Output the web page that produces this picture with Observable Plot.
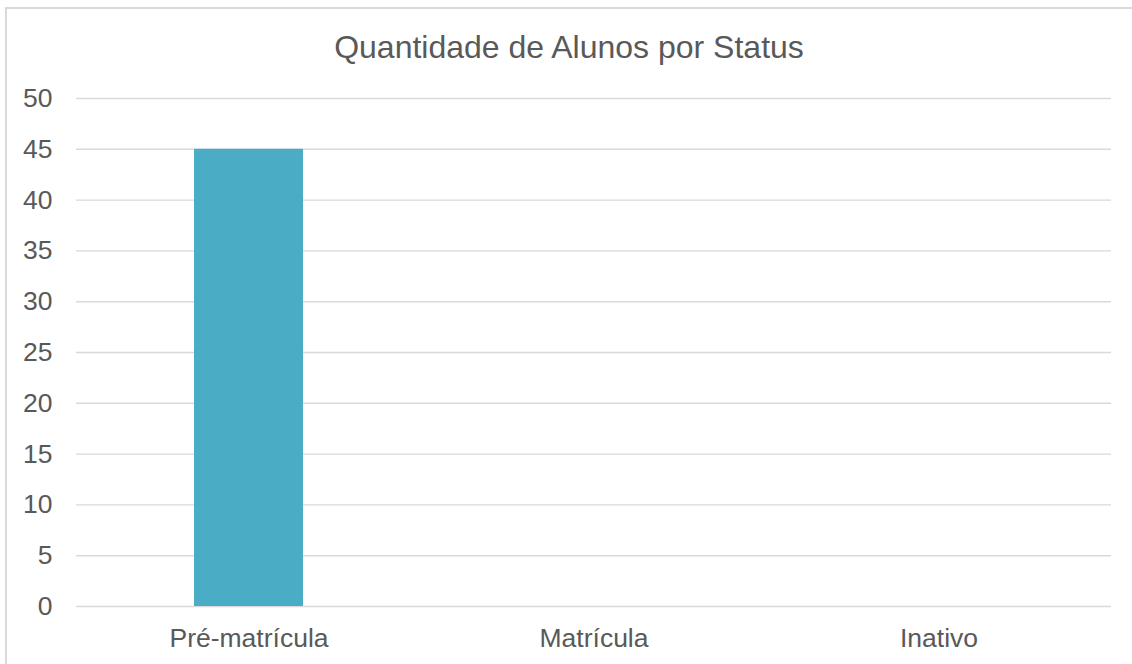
<!DOCTYPE html>
<html>
<head>
<meta charset="utf-8">
<script src="https://cdn.jsdelivr.net/npm/d3@7"></script>
<script src="https://cdn.jsdelivr.net/npm/@observablehq/plot@0.6"></script>
<style>
  html, body { margin: 0; padding: 0; background: #fff; overflow: hidden; }
  body { width: 1132px; height: 664px; position: relative; font-family: "Liberation Sans", Arial, sans-serif; }
  #frame { position: absolute; left: 5px; top: 7px; width: 2000px; height: 2000px;
           border-left: 2px solid #d9d9d9; border-top: 2px solid #d9d9d9; box-sizing: border-box; }
  #title { position: absolute; left: 0; top: 29px; width: 1138px; text-align: center;
           font-size: 32px; color: #595959; line-height: normal; white-space: nowrap; }
  #chart { position: absolute; left: 0; top: 70px; }
</style>
</head>
<body>
<div id="frame"></div>
<div id="title">Quantidade de Alunos por Status</div>
<div id="chart"></div>
<script>
const categories = ["Pré-matrícula", "Matrícula", "Inativo"];
const values = [45, 0, 0];
const yTicks = [0, 5, 10, 15, 20, 25, 30, 35, 40, 45, 50];

const data = categories.map((c, i) => ({category: c, value: values[i]}));

const plot = Plot.plot({
  width: 1132,
  height: 594,
  marginLeft: 76,
  marginRight: 21,
  marginTop: 28,
  marginBottom: 58,
  style: {
    fontFamily: "'Liberation Sans', Arial, sans-serif",
    fontSize: "26.5px",
    color: "#595959",
    background: "transparent",
    overflow: "visible"
  },
  x: {type: "band", domain: categories, paddingInner: 0.684, paddingOuter: 0.342, label: null},
  y: {domain: [0, 50], label: null},
  marks: [
    Plot.ruleY(yTicks, {stroke: "#d9d9d9", strokeWidth: 1.4}),
    Plot.barY(data, {x: "category", y: "value", fill: "#4BACC6"}),
    Plot.axisY(yTicks, {tickSize: 0, tickPadding: 24, fontSize: 26.5, fill: "#595959", label: null}),
    Plot.axisX({tickSize: 0, tickPadding: 22, fontSize: 26.5, fill: "#595959", label: null})
  ]
});
document.getElementById("chart").appendChild(plot);
</script>
</body>
</html>
